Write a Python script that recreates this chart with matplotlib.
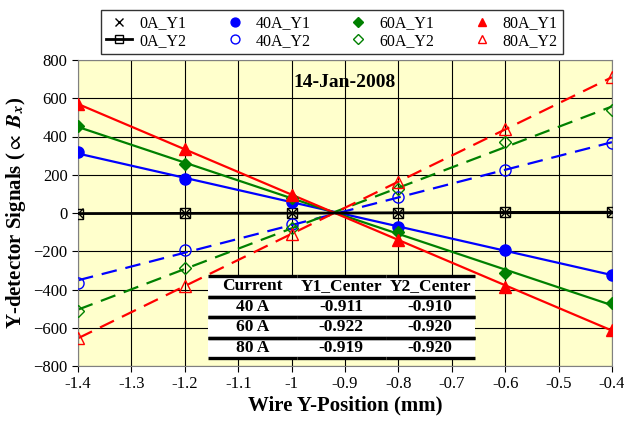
import numpy as np
import matplotlib.pyplot as plt
from matplotlib.patches import Rectangle

plt.rcParams['font.family'] = ['Liberation Serif', 'DejaVu Serif']
plt.rcParams['mathtext.fontset'] = 'stix'

x = [-1.4, -1.2, -1.0, -0.8, -0.6, -0.4]

y_0a_y1 = [-2, -1, 0, 1, 3, 5]
y_0a_y2 = [-3, -2, -1, 1, 3, 4]
y_40a_y1 = [318, 178, 55, -75, -195, -322]
y_40a_y2 = [-365, -195, -60, 85, 225, 365]
y_60a_y1 = [455, 255, 80, -100, -315, -472]
y_60a_y2 = [-510, -290, -80, 125, 370, 540]
y_80a_y1 = [570, 335, 95, -140, -385, -610]
y_80a_y2 = [-655, -380, -110, 160, 440, 710]

table_cols = ['Current', 'Y1_Center', 'Y2_Center']
table_rows = [['40 A', '-0.911', '-0.910'],
              ['60 A', '-0.922', '-0.920'],
              ['80 A', '-0.919', '-0.920']]

fig = plt.figure(figsize=(6.24, 4.25), dpi=100)
ax = fig.add_axes([78/624, 1 - 366/425, 534/624, 306/425])
ax.set_facecolor('#ffffcc')

xs = np.array(x)
xfit = np.array([-1.4, -0.4])


def fit_line(ys, color, ls):
    p = np.polyfit(xs, ys, 1)
    ax.plot(xfit, np.polyval(p, xfit), color=color, ls=ls, lw=1.6,
            dashes=(7, 4) if ls == '--' else (None, None), zorder=2)


handles = []
# 0 A
h1, = ax.plot(x, y_0a_y1, ls='none', marker='x', color='black', ms=7, mew=1, zorder=4)
h2, = ax.plot(x, y_0a_y2, ls='-', color='black', lw=2, marker='s', ms=7,
              mfc='none', mec='black', zorder=3)
handles += [h1, h2]

series = [
    (y_40a_y1, y_40a_y2, 'blue', 'o', 8),
    (y_60a_y1, y_60a_y2, 'green', 'D', 6),
    (y_80a_y1, y_80a_y2, 'red', '^', 8),
]
for y1, y2, c, m, ms in series:
    fit_line(y1, c, '-')
    fit_line(y2, c, '--')
    a, = ax.plot(x, y1, ls='none', marker=m, color=c, ms=ms, zorder=4)
    b, = ax.plot(x, y2, ls='none', marker=m, mfc='none', mec=c, ms=ms, mew=1, zorder=4)
    handles += [a, b]

labels = ['0A_Y1', '0A_Y2', '40A_Y1', '40A_Y2', '60A_Y1', '60A_Y2', '80A_Y1', '80A_Y2']

ax.set_xlim(-1.4, -0.4)
ax.set_ylim(-800, 800)
xt = np.round(np.arange(-1.4, -0.39, 0.1), 1)
ax.set_xticks(xt)
ax.set_xticklabels(['-1' if v == -1.0 else f'{v:g}' for v in xt])
ax.set_yticks(np.arange(-800, 801, 200))
ax.grid(True, color='black', lw=0.8)
ax.set_axisbelow(True)
ax.tick_params(labelsize=12, direction='out', length=4, color='black')
for s in ax.spines.values():
    s.set_color('#808080')

ax.set_xlabel('Wire Y-Position (mm)', fontsize=15, fontweight='bold', labelpad=2)
ax.set_ylabel(r'Y-detector Signals ($\propto$ $\mathbfit{B}_{\mathbfit{x}}$)',
              fontsize=15, fontweight='bold', labelpad=4)

ax.text(0.5, 0.925, '14-Jan-2008', transform=ax.transAxes, ha='center', va='center',
        fontsize=14, fontweight='bold')

leg = fig.legend(handles, labels, ncol=4, loc='center',
                 bbox_to_anchor=((100 + 564) / 2 / 624, 1 - 32 / 425),
                 fontsize=11.5, frameon=True, fancybox=False, edgecolor='black',
                 handlelength=1.6, handletextpad=0.5, columnspacing=2.2,
                 borderpad=0.3, labelspacing=0.1, markerscale=0.8)
leg.get_frame().set_linewidth(1.0)

tbox = [0.243, 0.026, 0.5, 0.268]
ax.add_patch(Rectangle((tbox[0], tbox[1]), tbox[2], tbox[3], transform=ax.transAxes,
                       facecolor='white', edgecolor='none', zorder=5))
tb = ax.table(cellText=table_rows, colLabels=table_cols, cellLoc='center',
              bbox=tbox, edges='horizontal')
tb.auto_set_font_size(False)
for (r, c), cell in tb.get_celld().items():
    cell.set_linewidth(2.4)
    cell.get_text().set_fontsize(12.5)
    cell.get_text().set_fontweight('bold')
tb.set_zorder(6)

fig.savefig('out.png', dpi=100)
